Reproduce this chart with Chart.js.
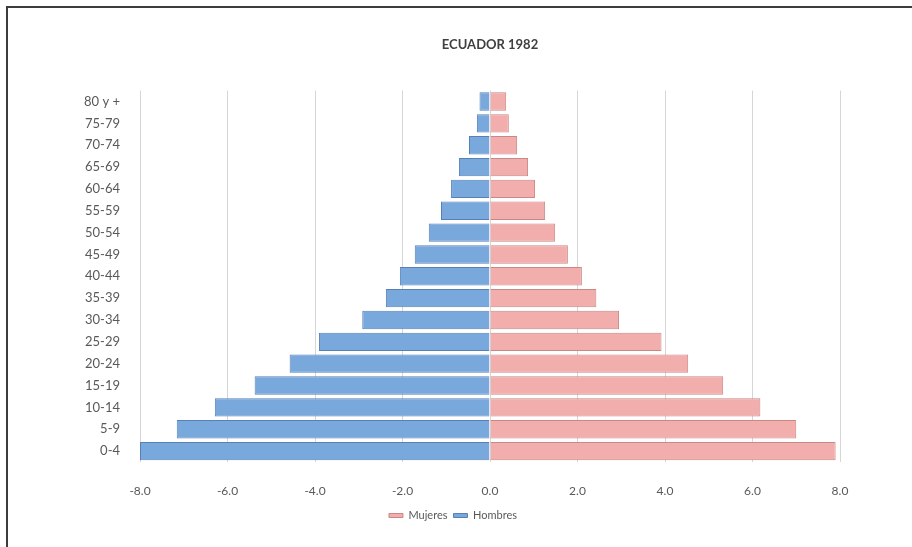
<!DOCTYPE html>
<html>
<head>
<meta charset="utf-8">
<script src="https://cdn.jsdelivr.net/npm/chart.js@4"></script>
<style>
  body { margin: 0; background: #fff; overflow: hidden; }
  #wrap { position: relative; width: 912px; height: 547px; }
  #frame { position: absolute; left: 6px; top: 6px; width: 1000px; height: 1000px;
           border-left: 2px solid #3c3c3c; border-top: 2px solid #3c3c3c; }
  canvas { position: absolute; left: 0; top: 0; }
</style>
</head>
<body>
<div id="wrap">
  <div id="frame"></div>
  <canvas id="pyramid"></canvas>
</div>
<script>
// Grupos de edad (de abajo hacia arriba)
const edades = ['0-4', '5-9', '10-14', '15-19', '20-24', '25-29', '30-34', '35-39', '40-44',
  '45-49', '50-54', '55-59', '60-64', '65-69', '70-74', '75-79', '80 y +'];

// Porcentaje de la población
const hombres = [-8.0, -7.16, -6.29, -5.38, -4.58, -3.91, -2.92, -2.38, -2.06,
  -1.72, -1.40, -1.12, -0.89, -0.71, -0.48, -0.30, -0.24];
const mujeres = [7.9, 7.0, 6.18, 5.33, 4.53, 3.92, 2.95, 2.43, 2.10,
  1.78, 1.49, 1.26, 1.03, 0.87, 0.62, 0.43, 0.37];

const ejeX = [-8, -6, -4, -2, 0, 2, 4, 6, 8];

// move legend a bit left, like the Excel original
const legendShift = {
  id: 'legendShift',
  afterLayout(chart) {
    chart.legend.left -= 37;
    chart.legend.right -= 37;
  }
};

const ctx = document.getElementById('pyramid');
new Chart(ctx, {
  type: 'bar',
  data: {
    labels: edades,
    datasets: [
      { label: 'Mujeres', data: mujeres, backgroundColor: '#f2aeac', borderColor: '#c98785',
        borderWidth: 1, barPercentage: 0.84, categoryPercentage: 1 },
      { label: 'Hombres', data: hombres, backgroundColor: '#79a8dd', borderColor: '#5781b6',
        borderWidth: 1, barPercentage: 0.84, categoryPercentage: 1 }
    ]
  },
  options: {
    indexAxis: 'y',
    responsive: true,
    maintainAspectRatio: false,
    animation: false,
    layout: { padding: { left: 0, right: 72, top: 0, bottom: 16 } },
    scales: {
      x: {
        stacked: true,
        min: -8, max: 8,
        afterBuildTicks(scale) { scale.ticks = ejeX.map(v => ({ value: v })); },
        afterFit(scale) { scale.height = 42; },
        ticks: {
          padding: 22,
          color: '#595959',
          font: { family: 'Lato', size: 12 },
          callback: v => v.toFixed(1)
        },
        grid: { color: '#d6d6d6', drawTicks: false },
        border: { display: false }
      },
      y: {
        stacked: true,
        reverse: true,
        afterFit(scale) { scale.width = 140; },
        ticks: {
          padding: 20,
          color: '#595959',
          font: { family: 'Lato', size: 13 }
        },
        grid: { display: false, drawTicks: false },
        border: { display: false }
      }
    },
    plugins: {
      title: {
        display: true,
        text: 'ECUADOR 1982',
        fullSize: false,
        color: '#404040',
        font: { family: 'Lato', size: 13, weight: 'bold' },
        padding: { top: 37, bottom: 38 }
      },
      legend: {
        position: 'bottom',
        fullSize: false,
        labels: {
          boxWidth: 14, boxHeight: 4,
          padding: 6,
          color: '#595959',
          font: { family: 'Lato', size: 11 }
        }
      },
      tooltip: {
        callbacks: { label: c => c.dataset.label + ': ' + Math.abs(c.raw).toFixed(2) + ' %' }
      }
    }
  },
  plugins: [legendShift]
});
</script>
</body>
</html>
